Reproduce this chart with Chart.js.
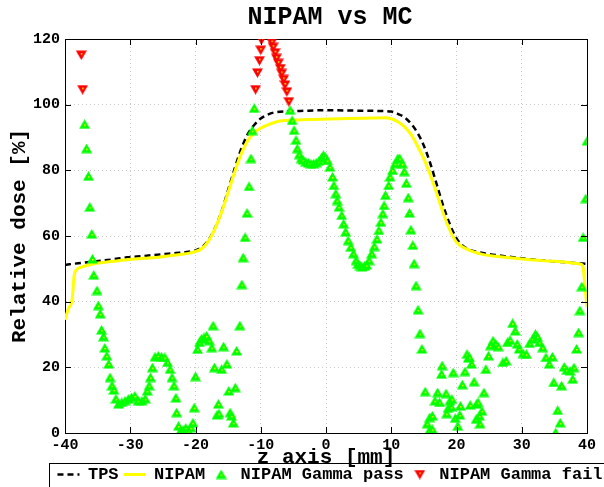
<!DOCTYPE html>
<html lang="en">
<head>
<meta charset="UTF-8">
<title>NIPAM vs MC</title>
<style>
  html, body { margin: 0; padding: 0; overflow: hidden; background: #fff; }
</style>
</head>
<body>
<canvas id="dose" width="660" height="487"></canvas>

<script src="https://cdn.jsdelivr.net/npm/chart.js"></script>
<script>
// --- data ---
const tpsZ = [-40, -38, -35.7, -33, -30.5, -28, -25.4, -23, -21.4, -20, -19, -18, -17, -16, -15, -14, -13, -12, -11, -10, -9, -8, -6, -4, 0, 4, 8, 10, 11, 12, 13, 14, 15, 16, 17, 18, 19, 20, 21, 22, 24, 26, 28, 30, 32, 34, 36, 38, 39.3, 40];
const tpsDose = [51.2, 51.7, 52.2, 52.8, 53.5, 53.9, 54.4, 54.8, 55.1, 55.6, 56.6, 58.8, 62.5, 67.5, 74, 80.5, 86.5, 91, 93.8, 95.8, 96.9, 97.6, 98.0, 98.1, 98.3, 98.2, 98.1, 97.9, 97.2, 96.2, 94.3, 91.5, 87.5, 82, 75.5, 69, 63.5, 59.3, 57, 55.8, 54.8, 54.2, 53.7, 53.2, 52.8, 52.4, 52.1, 51.8, 51.6, 51.5];

const nipamZ = [-40, -39.5, -38.9, -38.6, -38.2, -37.5, -35.7, -33, -30.5, -28, -25.4, -23, -20.3, -19, -18, -17, -16, -15, -14, -13, -12, -11, -10, -9, -8, -7, -5, -2, 2, 6, 9, 10, 11, 12, 13, 14, 15, 16, 17, 18, 19, 20, 21.5, 24, 26.7, 29, 31.8, 34, 36.9, 38.5, 39.2, 39.4, 39.7, 40];
const nipamDose = [34.5, 37.8, 40.8, 47.9, 49.8, 50.5, 51.5, 52.2, 52.8, 53.2, 53.6, 54.2, 55.1, 56.2, 58.5, 62.3, 67.3, 73.3, 79.5, 85, 89, 91.5, 92.9, 93.8, 94.5, 95.0, 95.3, 95.5, 95.7, 95.9, 96.0, 95.7, 94.8, 93.3, 91, 87.5, 83.5, 78.5, 72.8, 66.8, 61.7, 58.1, 56.1, 54.4, 53.7, 53.2, 52.7, 52.4, 52.0, 51.6, 51.3, 50.5, 44.4, 38.3];

const passZ = [
  -37.0, -36.7, -36.4, -36.2, -35.9, -35.8, -35.6, -35.1, -34.9, -34.6, -34.4, -34.1, -33.9, -33.6, -33.3, -33.1,
  -32.8, -32.5, -32.2, -31.8, -31.3, -30.8, -30.3, -29.8, -29.3, -28.8, -28.2, -27.7, -27.4, -27.1, -26.9, -26.6,
  -26.2, -25.7, -25.2, -24.7, -24.3, -23.9, -23.6, -23.3, -23.0, -22.9, -22.6, -22.3, -21.9, -21.5, -21.1, -20.7,
  -20.4, -20.2, -20.0, -19.7, -19.4, -19.1, -18.7, -18.3, -17.9, -17.5, -17.3, -17.1, -16.7, -16.5, -16.4, -16.0,
  -15.7, -15.2, -14.9, -14.7, -14.5, -14.2, -13.9, -13.7, -13.2, -12.9, -12.7, -12.4, -12.1, -11.8, -11.5, -11.3,
  -11.0,
  -5.5, -5.2, -4.9, -4.6, -4.4, -4.1, -3.8, -3.5, -3.1, -2.7, -2.3, -1.9, -1.5, -1.1, -0.7, -0.4, -0.1, 0.2, 0.6,
  1.0, 1.2, 1.5, 1.7, 2.0, 2.4, 2.7, 3.0, 3.4, 3.8, 4.2, 4.6, 4.9, 5.2, 5.5, 5.9, 6.2, 6.6, 7.0, 7.4, 7.8, 8.1,
  8.4, 8.7, 8.9, 9.1, 9.6, 9.8, 10.2, 10.6, 11.0, 11.3, 11.7, 12.0, 12.3, 12.6, 12.8, 13.0, 13.3, 13.5, 13.8,
  14.1, 14.4, 14.7,
  15.2, 15.5, 15.8, 15.9, 16.3, 16.3, 16.7, 17.1, 17.4, 17.7, 17.8, 18.4, 18.5, 18.7, 19.0, 19.2, 19.3, 19.5,
  19.8, 20.2, 20.5, 20.6, 20.9, 21.3, 21.6, 21.8, 22.0, 22.1, 22.3, 22.7, 23.0, 23.1, 23.3, 23.5, 23.6, 23.9,
  24.2, 24.5, 24.9, 25.2, 25.6, 26.0, 26.4, 27.1, 27.6, 27.8, 28.2, 28.6, 29.0, 29.3, 29.6, 30.2, 30.7, 31.2,
  31.7, 32.1, 32.4, 32.7, 33.2, 33.7, 34.2, 34.7, 34.9, 35.2, 35.5, 35.9, 36.1, 36.5, 36.9, 37.4, 37.8, 38.0,
  38.4, 38.7, 38.9, 39.2, 39.4, 39.8, 40.0
];
const passDose = [
  94.0, 86.6, 78.2, 68.8, 60.6, 53.0, 48.1, 43.4, 38.8, 36.3, 31.4, 29.3, 25.9, 23.5, 21.0, 16.9,
  14.4, 13.1, 10.4, 8.8, 9.3, 9.8, 10.3, 10.8, 11.3, 9.8, 9.8, 10.4, 12.8, 14.4, 16.9, 19.9,
  23.2, 23.5, 23.2, 23.0, 21.5, 19.4, 16.9, 14.4, 10.7, 6.2, 2.1, 0.6, 0.9, 1.5, 0.6, 1.6,
  3.1, 7.7, 17.2, 25.5, 27.6, 28.6, 29.1, 29.6, 28.1, 26.0, 32.7, 19.9, 5.5, 8.8, 5.9, 19.4,
  26.3, 21.0, 12.8, 6.2, 5.2, 3.1, 13.8, 25.0, 32.7, 45.2, 53.4, 59.6, 67.0, 75.1, 83.6, 92.1,
  98.9,
  98.3, 95.2, 92.2, 89.2, 86.6, 84.8, 83.6, 83.1, 82.5, 82.2, 82.0, 82.0, 82.3, 82.8, 83.8, 84.6, 84.0, 83.0, 81.0,
  78.0, 75.4, 72.9, 70.8, 68.8, 66.3, 63.7, 61.2, 58.6, 56.6, 54.6, 52.5, 51.5, 51.0, 50.6, 50.8, 51.2, 52.5, 54.6, 56.8, 59.1, 61.7,
  64.2, 66.8, 69.3, 72.4, 75.4, 78.0, 80.0, 82.0, 83.6, 83.6, 82.0, 79.6, 76.1, 71.7, 67.0, 61.9, 57.2, 51.6, 44.9,
  37.5, 30.3, 25.6,
  12.6, 2.8, 0.6, 4.7, 1.1, 5.2, 9.8, 12.3, 9.3, 17.9, 20.5, 12.0, 5.9, 7.5, 9.8, 7.9, 10.3, 18.4,
  4.5, 2.1, 5.5, 8.2, 14.7, 18.7, 24.0, 22.8, 23.0, 8.5, 21.0, 15.6, 4.2, 8.8, 9.3, 5.2, 2.8, 6.7,
  12.3, 19.4, 23.5, 26.6, 28.1, 27.1, 26.3, 21.5, 22.0, 27.6, 28.3, 33.4, 31.1, 27.1, 25.6, 24.2, 24.0, 27.3,
  28.6, 30.1, 29.3, 27.6, 26.0, 23.0, 21.0, 23.2, 15.4, 0.1, 6.9, 3.1, 14.4, 20.1, 19.1, 18.9, 16.4, 19.9,
  25.6, 30.6, 37.3, 44.6, 59.6, 71.4, 88.9
];

const failZ = [-37.5, -37.3, -10.8, -10.5, -10.2, -10.0, -9.9, -8.3, -8.1, -7.8, -7.6, -7.3, -7.0, -6.8, -6.5, -6.3, -6.0, -5.7];
const failDose = [115.1, 104.6, 104.6, 109.7, 113.4, 116.6, 119.7, 118.9, 117.5, 115.8, 114.1, 112.6, 111.0, 109.5, 107.7, 106.0, 103.9, 100.9];

const xTicks = [-40, -30, -20, -10, 0, 10, 20, 30, 40];
const yTicks = [0, 20, 40, 60, 80, 100, 120];

const MONO = "'Liberation Mono', 'Courier New', monospace";
const W = 660;

// small triangle markers with the yellow centre dot
function marker(color, down) {
    const c = document.createElement('canvas');
    c.width = 11; c.height = 10;
    const g = c.getContext('2d');
    g.fillStyle = color;
    g.beginPath();
    if (down) {
        g.moveTo(0, 0.5); g.lineTo(11, 0.5); g.lineTo(5.5, 10);
    } else {
        g.moveTo(5.5, 0); g.lineTo(11, 9.5); g.lineTo(0, 9.5);
    }
    g.closePath();
    g.fill();
    g.fillStyle = '#ffff00';
    g.fillRect(5, down ? 3 : 5, 1.5, 1.5);
    return c;
}

const pts = (xs, ys) => xs.map((x, i) => ({ x: x, y: ys[i] }));

// inward tick marks + legend frame, MATLAB style
const frameBits = {
    id: 'frameBits',
    afterDraw(chart) {
        const { ctx, chartArea: a, scales: { x, y } } = chart;
        ctx.save();
        ctx.strokeStyle = '#000';
        ctx.lineWidth = 1;
        ctx.beginPath();
        xTicks.forEach(v => {
            const px = Math.round(x.getPixelForValue(v)) + 0.5;
            ctx.moveTo(px, a.bottom); ctx.lineTo(px, a.bottom - 6);
            ctx.moveTo(px, a.top); ctx.lineTo(px, a.top + 6);
        });
        yTicks.forEach(v => {
            const py = Math.round(y.getPixelForValue(v)) + 0.5;
            ctx.moveTo(a.left, py); ctx.lineTo(a.left + 6, py);
            ctx.moveTo(a.right, py); ctx.lineTo(a.right - 6, py);
        });
        ctx.stroke();

        const lg = chart.legend;
        if (lg && lg.legendHitBoxes && lg.legendHitBoxes.length) {
            const hb = lg.legendHitBoxes;
            const cy = hb[0].top + hb[0].height / 2;
            ctx.strokeRect(Math.round(hb[0].left - 8) + 0.5, Math.round(cy - 12) + 0.5, chart.width, 24);
        }
        ctx.restore();
    }
};

const chart = new Chart(document.getElementById('dose'), {
    type: 'line',
    data: {
        datasets: [{
            label: 'TPS',
            data: pts(tpsZ, tpsDose),
            borderColor: '#000000',
            backgroundColor: '#000000',
            borderWidth: 2.5,
            borderDash: [6, 4],
            pointRadius: 0,
            cubicInterpolationMode: 'monotone',
            order: 4
        }, {
            label: 'NIPAM',
            data: pts(nipamZ, nipamDose),
            borderColor: '#ffff00',
            backgroundColor: '#ffff00',
            borderWidth: 3,
            pointRadius: 0,
            cubicInterpolationMode: 'monotone',
            order: 3
        }, {
            label: 'NIPAM Gamma pass',
            data: pts(passZ, passDose),
            showLine: false,
            pointStyle: marker('#00ff00', false),
            pointRadius: 5,
            borderColor: '#00ff00',
            backgroundColor: '#00ff00',
            order: 2
        }, {
            label: 'NIPAM Gamma fail',
            data: pts(failZ, failDose),
            showLine: false,
            pointStyle: marker('#ff0000', true),
            pointRadius: 5,
            borderColor: '#ff0000',
            backgroundColor: '#ff0000',
            order: 1
        }]
    },
    options: {
        responsive: false,
        animation: false,
        layout: { padding: { bottom: -6 } },
        scales: {
            x: {
                type: 'linear',
                min: -40, max: 40,
                afterBuildTicks: s => { s.ticks = xTicks.map(v => ({ value: v })); },
                afterFit: s => { s.height = 28; },
                ticks: {
                    padding: 3,
                    color: '#000',
                    font: { family: MONO, size: 15, weight: 'bold' }
                },
                grid: { color: '#c8c8c8', drawTicks: false },
                border: { color: '#000', width: 1, dash: [1, 3] },
                title: {
                    display: true,
                    text: 'z axis [mm]',
                    color: '#000',
                    font: { family: MONO, size: 21, weight: 'bold' },
                    padding: { top: 0, bottom: -9 }
                }
            },
            x2: {
                type: 'linear',
                position: 'top',
                min: -40, max: 40,
                ticks: { display: false },
                grid: { drawOnChartArea: false, drawTicks: false },
                border: { color: '#000', width: 1 }
            },
            y: {
                type: 'linear',
                min: 0, max: 120,
                afterBuildTicks: s => { s.ticks = yTicks.map(v => ({ value: v })); },
                afterFit: s => { s.width = 65; },
                ticks: {
                    padding: 5,
                    color: '#000',
                    font: { family: MONO, size: 15, weight: 'bold' }
                },
                grid: { color: '#c8c8c8', drawTicks: false },
                border: { color: '#000', width: 1, dash: [1, 3] },
                title: {
                    display: true,
                    text: 'Relative dose [%]',
                    color: '#000',
                    font: { family: MONO, size: 21, weight: 'bold' },
                    padding: { top: 7, bottom: 0 }
                }
            },
            y2: {
                type: 'linear',
                position: 'right',
                min: 0, max: 120,
                afterFit: s => { s.width = W - 587; },
                ticks: { display: false },
                grid: { drawOnChartArea: false, drawTicks: false },
                border: { color: '#000', width: 1 }
            }
        },
        plugins: {
            title: {
                display: true,
                text: 'NIPAM vs MC',
                color: '#000',
                font: { family: MONO, size: 25, weight: 'bold' },
                padding: { top: 3, bottom: 6 }
            },
            legend: {
                position: 'bottom',
                labels: {
                    usePointStyle: true,
                    pointStyleWidth: 22,
                    padding: 5,
                    color: '#000',
                    font: { family: MONO, size: 17, weight: 'bold' },
                    generateLabels: ch => ch.data.datasets.map((ds, i) => ({
                        text: ds.label,
                        datasetIndex: i,
                        pointStyle: ds.showLine === false ? ds.pointStyle : 'line',
                        strokeStyle: ds.borderColor,
                        fillStyle: ds.backgroundColor,
                        lineWidth: ds.showLine === false ? 0 : ds.borderWidth,
                        lineDash: ds.borderDash || [],
                        fontColor: '#000',
                        hidden: false
                    }))
                }
            },
            tooltip: { enabled: false }
        }
    },
    plugins: [frameBits]
});
</script>
</body>
</html>
